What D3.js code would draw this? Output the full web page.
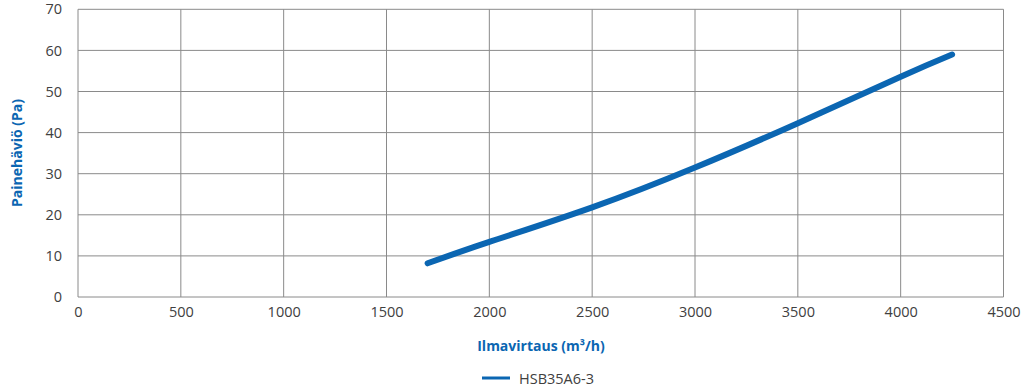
<!DOCTYPE html>
<html>
<head>
<meta charset="utf-8">
<script src="https://cdn.jsdelivr.net/npm/d3@7"></script>
<style>
  html, body { margin: 0; padding: 0; background: #fff; }
  svg { display: block; font-family: "Open Sans", "Noto Sans", sans-serif; }
</style>
</head>
<body>
<svg id="chart" width="1024" height="388"></svg>
<script>
const seriesName = "HSB35A6-3";
const airflow = [1700, 2000, 2500, 3000, 3500, 4000, 4250];
const pressure = [8.2, 13.4, 21.8, 31.5, 42.3, 53.6, 59.0];
const xTicks = [0, 500, 1000, 1500, 2000, 2500, 3000, 3500, 4000, 4500];
const yTicks = [0, 10, 20, 30, 40, 50, 60, 70];
const xTitle = "Ilmavirtaus (m³/h)";
const yTitle = "Painehäviö (Pa)";

const svg = d3.select("#chart");
const pLeft = 78, pRight = 1003.5, pTop = 9.3, pBottom = 297;
const x = d3.scaleLinear().domain([0, 4500]).range([pLeft, pRight]);
const y = d3.scaleLinear().domain([0, 70]).range([pBottom, pTop]);

const gridColor = "#8a8a8a";
const textColor = "#404040";
const blue = "#0b66b2";

// grid
svg.append("g").selectAll("line").data(xTicks).join("line")
  .attr("x1", d => x(d)).attr("x2", d => x(d))
  .attr("y1", pTop).attr("y2", pBottom)
  .attr("stroke", gridColor).attr("stroke-width", 1);
svg.append("g").selectAll("line").data(yTicks).join("line")
  .attr("x1", pLeft).attr("x2", pRight)
  .attr("y1", d => y(d)).attr("y2", d => y(d))
  .attr("stroke", gridColor).attr("stroke-width", 1);

// axes
const xAxis = d3.axisBottom(x).tickValues(xTicks).tickSize(0).tickPadding(10).tickFormat(d3.format("d"));
const gx = svg.append("g").attr("transform", `translate(0,${pBottom})`).call(xAxis);
gx.select(".domain").remove();
gx.selectAll("text").attr("fill", textColor).attr("font-size", "14.5px").attr("font-family", '"Open Sans", sans-serif');

const yAxis = d3.axisLeft(y).tickValues(yTicks).tickSize(0).tickPadding(16).tickFormat(d3.format("d"));
const gy = svg.append("g").attr("transform", `translate(${pLeft},0)`).call(yAxis);
gy.select(".domain").remove();
gy.selectAll("text").attr("fill", textColor).attr("font-size", "14.5px").attr("font-family", '"Open Sans", sans-serif');

// line
const data = airflow.map((v, i) => [v, pressure[i]]);
const line = d3.line().x(d => x(d[0])).y(d => y(d[1])).curve(d3.curveNatural);
svg.append("path").datum(data)
  .attr("d", line)
  .attr("fill", "none")
  .attr("stroke", blue)
  .attr("stroke-width", 6)
  .attr("stroke-linecap", "round")
  .attr("stroke-linejoin", "round");

// titles
svg.append("text")
  .attr("x", 541).attr("y", 351)
  .attr("text-anchor", "middle")
  .attr("font-size", "14px").attr("font-weight", "bold")
  .attr("fill", blue)
  .text(xTitle);

svg.append("text")
  .attr("transform", "translate(22,153) rotate(-90)")
  .attr("text-anchor", "middle")
  .attr("font-size", "14px").attr("font-weight", "bold")
  .attr("fill", blue)
  .text(yTitle);

// legend
svg.append("line")
  .attr("x1", 482).attr("x2", 510).attr("y1", 378).attr("y2", 378)
  .attr("stroke", blue).attr("stroke-width", 3);
svg.append("text")
  .attr("x", 519).attr("y", 383.5)
  .attr("font-size", "14.5px")
  .attr("fill", textColor)
  .text(seriesName);
</script>
</body>
</html>
